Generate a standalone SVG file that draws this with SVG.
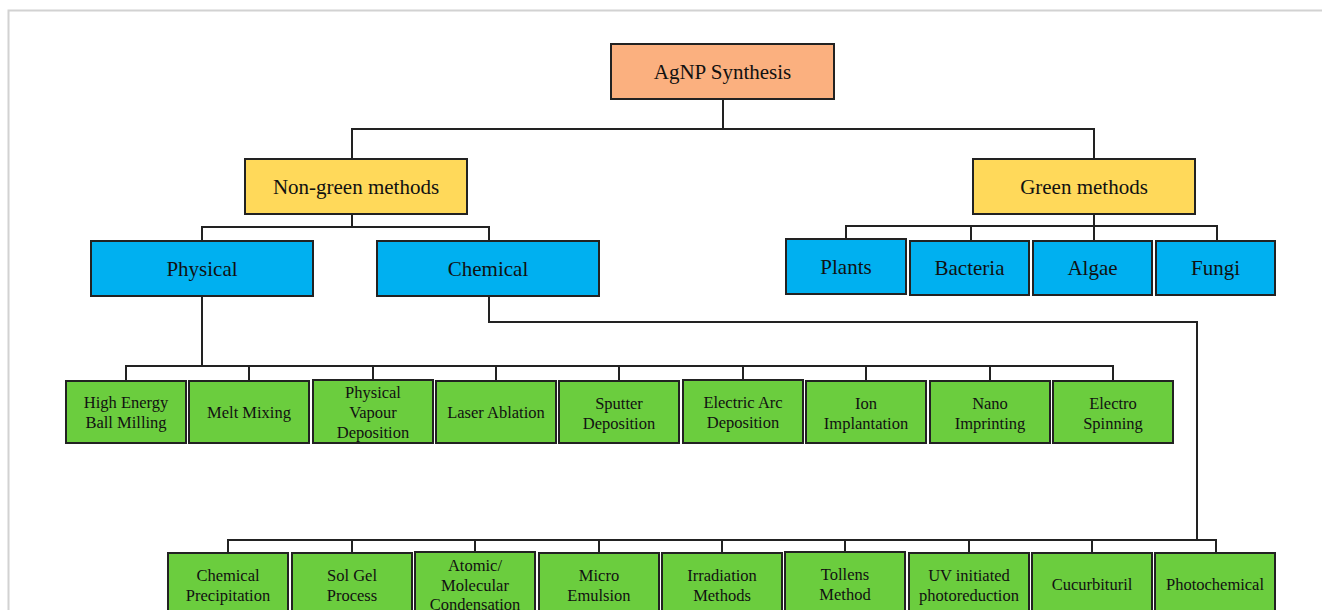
<svg xmlns="http://www.w3.org/2000/svg" width="1322" height="610" viewBox="0 0 1322 610">
<style>
.box{stroke:#222;stroke-width:2}
.o{fill:#FBB07F}.y{fill:#FFD95A}.b{fill:#00B0F0}.g{fill:#6BCD3E}
text{font-family:"Liberation Serif","Times New Roman",serif;fill:#111;text-anchor:middle;dominant-baseline:central}
.l{font-size:21px}.s{font-size:16.5px}
.c{fill:none;stroke:#222;stroke-width:2}
</style>
<rect width="1322" height="610" fill="#fff"/>
<path d="M8.5 610V10.5H1322" fill="none" stroke="#d2d2d2" stroke-width="2"/>
<g id="connectors">
<path class="c" d="M723 99V129M352 159V129H1094V159"/>
<path class="c" d="M352 214V227M202 241V227H489V241"/>
<path class="c" d="M1094 214V226M846 239V226H1217V241M971 226V241M1094 226V241"/>
<path class="c" d="M202 296V366M126 381V366H1113V381M249 366V381M373 366V380M496 366V381M619 366V381M743 366V380M866 366V381M990 366V381"/>
<path class="c" d="M489 296V322H1197V540M228 553V540H1216V553M352 540V553M475 540V552M599 540V553M722 540V553M845 540V552M969 540V553M1092 540V553"/>
</g>
<g id="agnp"><rect class="box o" x="611" y="44" width="223" height="55"/><text class="l" x="722.5" y="72">AgNP Synthesis</text></g>
<g id="nongreen"><rect class="box y" x="245" y="159" width="222" height="55"/><text class="l" x="356" y="187">Non-green methods</text></g>
<g id="green"><rect class="box y" x="973" y="159" width="222" height="55"/><text class="l" x="1084" y="187">Green methods</text></g>
<g id="physical"><rect class="box b" x="91" y="241" width="222" height="55"/><text class="l" x="202" y="269">Physical</text></g>
<g id="chemical"><rect class="box b" x="377" y="241" width="222" height="55"/><text class="l" x="488" y="269">Chemical</text></g>
<g id="plants"><rect class="box b" x="786" y="239" width="120" height="55"/><text class="l" x="846" y="267">Plants</text></g>
<g id="bacteria"><rect class="box b" x="910" y="241" width="119" height="54"/><text class="l" x="969.5" y="268">Bacteria</text></g>
<g id="algae"><rect class="box b" x="1033" y="241" width="119" height="54"/><text class="l" x="1092.5" y="268">Algae</text></g>
<g id="fungi"><rect class="box b" x="1156" y="241" width="119" height="54"/><text class="l" x="1215.5" y="268">Fungi</text></g>

<g id="hebm"><rect class="box g" x="66" y="381" width="120" height="62"/><text class="s" x="126" y="402">High Energy</text><text class="s" x="126" y="422">Ball Milling</text></g>
<g id="melt"><rect class="box g" x="189" y="381" width="120" height="62"/><text class="s" x="249" y="412">Melt Mixing</text></g>
<g id="pvd"><rect class="box g" x="313" y="380" width="120" height="63"/><text class="s" x="373" y="392">Physical</text><text class="s" x="373" y="412">Vapour</text><text class="s" x="373" y="432">Deposition</text></g>
<g id="laser"><rect class="box g" x="436" y="381" width="120" height="62"/><text class="s" x="496" y="412">Laser Ablation</text></g>
<g id="sputter"><rect class="box g" x="559" y="381" width="120" height="62"/><text class="s" x="619" y="403">Sputter</text><text class="s" x="619" y="423">Deposition</text></g>
<g id="arc"><rect class="box g" x="683" y="380" width="120" height="63"/><text class="s" x="743" y="402">Electric Arc</text><text class="s" x="743" y="422">Deposition</text></g>
<g id="ion"><rect class="box g" x="806" y="381" width="120" height="62"/><text class="s" x="866" y="403">Ion</text><text class="s" x="866" y="423">Implantation</text></g>
<g id="nano"><rect class="box g" x="930" y="381" width="120" height="62"/><text class="s" x="990" y="403">Nano</text><text class="s" x="990" y="423">Imprinting</text></g>
<g id="electro"><rect class="box g" x="1053" y="381" width="120" height="62"/><text class="s" x="1113" y="403">Electro</text><text class="s" x="1113" y="423">Spinning</text></g>

<g id="precip"><rect class="box g" x="168" y="553" width="120" height="62"/><text class="s" x="228" y="575">Chemical</text><text class="s" x="228" y="595">Precipitation</text></g>
<g id="solgel"><rect class="box g" x="292" y="553" width="120" height="62"/><text class="s" x="352" y="575">Sol Gel</text><text class="s" x="352" y="595">Process</text></g>
<g id="atomic"><rect class="box g" x="415" y="552" width="120" height="63"/><text class="s" x="475" y="565">Atomic/</text><text class="s" x="475" y="585">Molecular</text><text class="s" x="475" y="604">Condensation</text></g>
<g id="micro"><rect class="box g" x="539" y="553" width="120" height="62"/><text class="s" x="599" y="575">Micro</text><text class="s" x="599" y="595">Emulsion</text></g>
<g id="irradiation"><rect class="box g" x="662" y="553" width="120" height="62"/><text class="s" x="722" y="575">Irradiation</text><text class="s" x="722" y="595">Methods</text></g>
<g id="tollens"><rect class="box g" x="785" y="552" width="120" height="63"/><text class="s" x="845" y="574">Tollens</text><text class="s" x="845" y="594">Method</text></g>
<g id="uv"><rect class="box g" x="909" y="553" width="120" height="62"/><text class="s" x="969" y="575">UV initiated</text><text class="s" x="969" y="595">photoreduction</text></g>
<g id="cucurbituril"><rect class="box g" x="1032" y="553" width="120" height="62"/><text class="s" x="1092" y="584">Cucurbituril</text></g>
<g id="photochemical"><rect class="box g" x="1155" y="553" width="120" height="62"/><text class="s" x="1215" y="584">Photochemical</text></g>
</svg>
